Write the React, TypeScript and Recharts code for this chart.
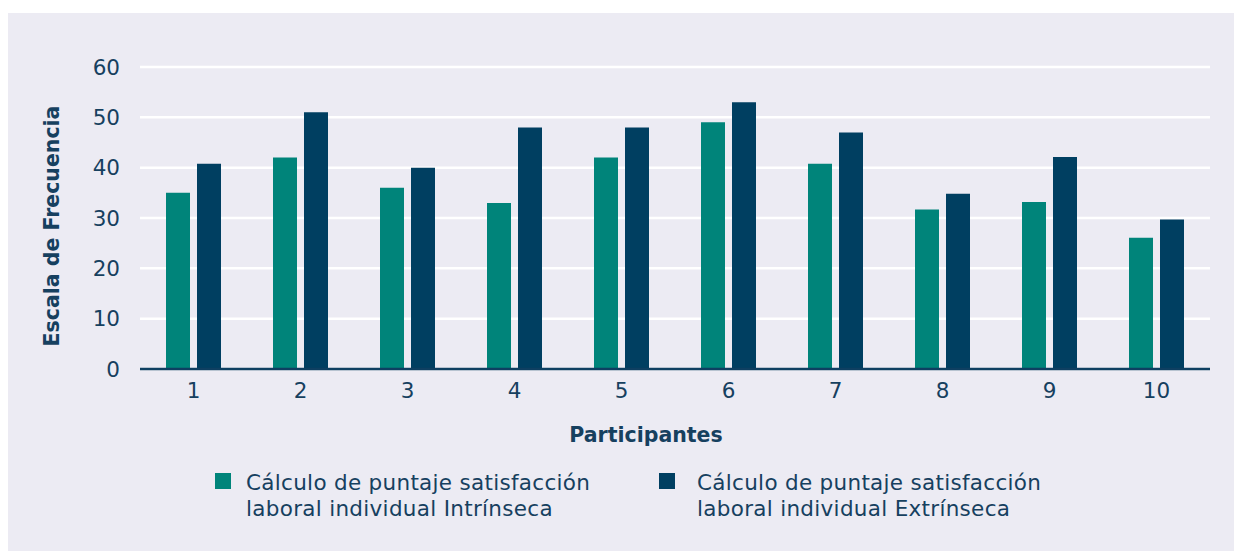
import React from 'react';
import { BarChart, Bar, XAxis, YAxis, CartesianGrid, Legend } from 'recharts';

const categories = ['1', '2', '3', '4', '5', '6', '7', '8', '9', '10'];
const intrinseca = [35, 42, 36, 33, 42, 49, 40.8, 31.7, 33.2, 26.1];
const extrinseca = [40.8, 51, 40, 48, 48, 53, 47, 34.8, 42.1, 29.7];
const yTicks = [0, 10, 20, 30, 40, 50, 60];
const seriesNames = [
  ['Cálculo de puntaje satisfacción', 'laboral individual Intrínseca'],
  ['Cálculo de puntaje satisfacción', 'laboral individual Extrínseca'],
];
const yTitle = 'Escala de Frecuencia';
const xTitle = 'Participantes';

const TEAL = '#00847A';
const NAVY = '#003F61';
const TEXT = '#16405F';
const FONT = "'DejaVu Sans', sans-serif";

const data = categories.map((c, i) => ({ name: c, intr: intrinseca[i], extr: extrinseca[i] }));

const LegendContent = () => {
  const colors = [TEAL, NAVY];
  const squareX = [207, 651];
  const textX = [238, 689];
  return (
    <div style={{ position: 'relative', height: 90, width: 1229 }}>
      {seriesNames.map((lines, i) => (
        <React.Fragment key={i}>
          <div
            style={{
              position: 'absolute',
              left: squareX[i],
              top: 24,
              width: 16,
              height: 16,
              background: colors[i],
            }}
          />
          <div
            style={{
              position: 'absolute',
              left: textX[i],
              top: 21,
              fontFamily: FONT,
              fontSize: 21.5,
              letterSpacing: 0.3,
              lineHeight: '26px',
              color: TEXT,
              whiteSpace: 'nowrap',
            }}
          >
            {lines[0]}
            <br />
            {lines[1]}
          </div>
        </React.Fragment>
      ))}
    </div>
  );
};

export default function App() {
  return (
    <div style={{ marginTop: 5, width: 1229, height: 538, background: '#ECEBF3' }}>
      <BarChart
        width={1229}
        height={538}
        data={data}
        margin={{ top: 54, right: 27, left: 0, bottom: 12 }}
        barSize={24}
        barGap={7}
      >
        <CartesianGrid horizontal vertical={false} stroke="#FFFFFF" strokeWidth={2.5} />
        <XAxis
          dataKey="name"
          height={80}
          tickLine={false}
          tickSize={0}
          tickMargin={14}
          axisLine={{ stroke: '#0E3F61', strokeWidth: 2.5 }}
          tick={{ fill: TEXT, fontSize: 21.5, fontFamily: FONT }}
          label={(props: any) => {
            const vb = props.viewBox || { x: 132, y: 356, width: 1070 };
            return (
              <text
                x={638}
                y={vb.y + 67}
                textAnchor="middle"
                dominantBaseline="middle"
                fill={TEXT}
                fontSize={20.5}
                fontWeight="bold"
                fontFamily={FONT}
              >
                {xTitle}
              </text>
            );
          }}
        />
        <YAxis
          width={132}
          domain={[0, 60]}
          ticks={yTicks}
          interval={0}
          axisLine={false}
          tickLine={false}
          tickSize={0}
          tickMargin={20}
          tick={{ fill: TEXT, fontSize: 21.5, fontFamily: FONT }}
          label={() => (
            <text
              x={45}
              y={213}
              transform="rotate(-90 45 213)"
              textAnchor="middle"
              dominantBaseline="middle"
              fill={TEXT}
              fontSize={20.5}
              fontWeight="bold"
              fontFamily={FONT}
            >
              {yTitle}
            </text>
          )}
        />
        <Legend
          verticalAlign="bottom"
          height={90}
          wrapperStyle={{ left: 0, width: 1229 }}
          content={() => <LegendContent />}
        />
        <Bar dataKey="intr" name={seriesNames[0].join(' ')} fill={TEAL} isAnimationActive={false} />
        <Bar dataKey="extr" name={seriesNames[1].join(' ')} fill={NAVY} isAnimationActive={false} />
      </BarChart>
    </div>
  );
}
